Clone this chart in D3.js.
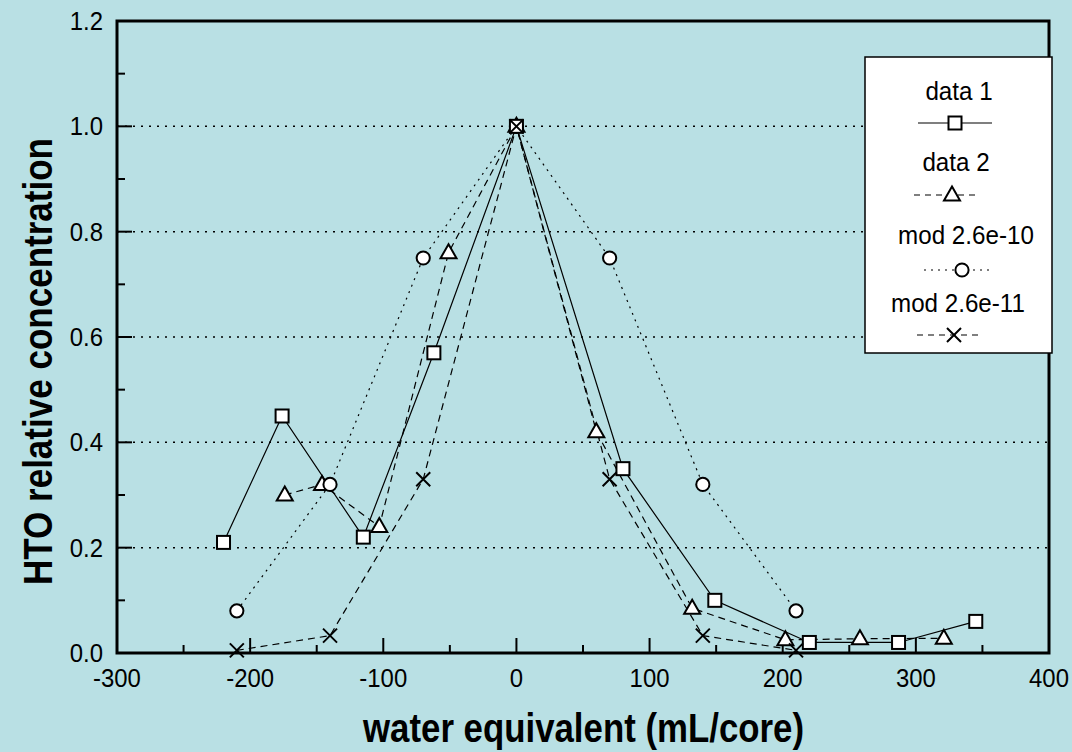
<!DOCTYPE html>
<html>
<head>
<meta charset="utf-8">
<script src="https://cdn.jsdelivr.net/npm/d3@7"></script>
<style>
  html, body { margin: 0; padding: 0; background: #b9e0e4; }
  svg { display: block; font-family: "Liberation Sans", Arial, sans-serif; }
</style>
</head>
<body>
<svg width="1072" height="752"></svg>
<script>
// values
const data1X = [-220, -176, -115, -62, 0, 80, 149, 220, 287, 345];
const data1Y = [0.21, 0.45, 0.22, 0.57, 1.0, 0.35, 0.10, 0.02, 0.02, 0.06];
const data2X = [-174, -146, -103, -51, 0, 60, 132, 202, 258, 321];
const data2Y = [0.30, 0.32, 0.24, 0.76, 1.0, 0.42, 0.085, 0.025, 0.027, 0.028];
const modX = [-210, -140, -70, 0, 70, 140, 210];
const mod10Y = [0.08, 0.32, 0.75, 1.0, 0.75, 0.32, 0.08];
const mod11Y = [0.005, 0.033, 0.33, 1.0, 0.33, 0.033, 0.005];
const xTicks = [-300, -200, -100, 0, 100, 200, 300, 400];
const yTicks = [0.0, 0.2, 0.4, 0.6, 0.8, 1.0, 1.2];
const gridY = [0.2, 0.4, 0.6, 0.8, 1.0];
const legendNames = ["data 1", "data 2", "mod 2.6e-10", "mod 2.6e-11"];

const svg = d3.select("svg");
const x = d3.scaleLinear().domain([-300, 400]).range([117, 1049]);
const y = d3.scaleLinear().domain([0, 1.2]).range([653, 21]);

// squeeze text horizontally, the original uses a narrow face
function condense(sel, k) {
  sel.each(function () {
    const w = this.getComputedTextLength();
    d3.select(this).attr("textLength", w * k).attr("lengthAdjust", "spacingAndGlyphs");
  });
}

const zip = (xs, ys) => xs.map((v, i) => [v, ys[i]]);
const series = [
  { name: "data 2", pts: zip(data2X, data2Y), dash: "7,5", mark: "tri" },
  { name: "mod 2.6e-10", pts: zip(modX, mod10Y), dash: "2,5", mark: "circ" },
  { name: "data 1", pts: zip(data1X, data1Y), dash: null, mark: "sq" },
  { name: "mod 2.6e-11", pts: zip(modX, mod11Y), dash: "7,5", mark: "x" }
];

// grid
svg.append("g")
  .selectAll("line")
  .data(gridY)
  .enter()
  .append("line")
  .attr("x1", x(-300)).attr("x2", x(400))
  .attr("y1", d => y(d)).attr("y2", d => y(d))
  .attr("stroke", "#000").attr("stroke-width", 1.5)
  .attr("stroke-dasharray", "2,6");

// ticks pointing inside
const minorX = d3.range(-250, 400, 100);
const minorY = d3.range(0.1, 1.2, 0.2);
const tk = svg.append("g").attr("stroke", "#000").attr("stroke-width", 2);
tk.selectAll(".mx").data(xTicks.slice(1, -1)).enter().append("line")
  .attr("x1", d => x(d)).attr("x2", d => x(d)).attr("y1", y(0)).attr("y2", y(0) - 15);
tk.selectAll(".nx").data(minorX).enter().append("line")
  .attr("x1", d => x(d)).attr("x2", d => x(d)).attr("y1", y(0)).attr("y2", y(0) - 8);
tk.selectAll(".my").data(yTicks.slice(1, -1)).enter().append("line")
  .attr("y1", d => y(d)).attr("y2", d => y(d)).attr("x1", x(-300)).attr("x2", x(-300) + 15);
tk.selectAll(".ny").data(minorY).enter().append("line")
  .attr("y1", d => y(d)).attr("y2", d => y(d)).attr("x1", x(-300)).attr("x2", x(-300) + 8);

// frame
svg.append("rect")
  .attr("x", x(-300)).attr("y", y(1.2))
  .attr("width", x(400) - x(-300)).attr("height", y(0) - y(1.2))
  .attr("fill", "none").attr("stroke", "#000").attr("stroke-width", 3);

// tick labels
svg.append("g").selectAll("text").data(xTicks).enter().append("text")
  .attr("x", d => x(d)).attr("y", 687)
  .attr("text-anchor", "middle").attr("font-size", 26)
  .text(d => d)
  .call(condense, 0.92);
svg.append("g").selectAll("text").data(yTicks).enter().append("text")
  .attr("x", 103).attr("y", d => y(d) + 9)
  .attr("text-anchor", "end").attr("font-size", 26)
  .text(d => d.toFixed(1))
  .call(condense, 0.92);

// axis titles
svg.append("text")
  .attr("x", 583.5).attr("y", 742)
  .attr("text-anchor", "middle").attr("font-size", 40).attr("font-weight", "bold")
  .attr("textLength", 441).attr("lengthAdjust", "spacingAndGlyphs")
  .text("water equivalent (mL/core)");
svg.append("text")
  .attr("transform", "translate(52,361.5) rotate(-90)")
  .attr("text-anchor", "middle").attr("font-size", 40).attr("font-weight", "bold")
  .attr("textLength", 447).attr("lengthAdjust", "spacingAndGlyphs")
  .text("HTO relative concentration");

// marker drawing
function drawMark(g, kind) {
  if (kind === "sq") {
    g.append("rect").attr("x", -6.5).attr("y", -6.5).attr("width", 13).attr("height", 13)
      .attr("fill", "#fff").attr("stroke", "#000").attr("stroke-width", 2);
  } else if (kind === "tri") {
    g.append("path").attr("d", "M0,-8.5L8,5.5L-8,5.5Z")
      .attr("fill", "#fff").attr("stroke", "#000").attr("stroke-width", 2);
  } else if (kind === "circ") {
    g.append("circle").attr("r", 6.6)
      .attr("fill", "#fff").attr("stroke", "#000").attr("stroke-width", 2);
  } else {
    g.append("path").attr("d", "M-7,-7L7,7M-7,7L7,-7")
      .attr("fill", "none").attr("stroke", "#000").attr("stroke-width", 2);
  }
}

const line = d3.line().x(d => x(d[0])).y(d => y(d[1]));
svg.append("g").selectAll("path").data(series).enter().append("path")
  .attr("d", d => line(d.pts))
  .attr("fill", "none").attr("stroke", "#000").attr("stroke-width", 1.2)
  .attr("stroke-dasharray", d => d.dash);

series.forEach(s => {
  svg.append("g").selectAll("g").data(s.pts).enter().append("g")
    .attr("transform", d => `translate(${x(d[0])},${y(d[1])})`)
    .each(function () { drawMark(d3.select(this), s.mark); });
});

// legend
const lg = svg.append("g");
lg.append("rect").attr("x", 865).attr("y", 57).attr("width", 187).attr("height", 296)
  .attr("fill", "#fff").attr("stroke", "#000").attr("stroke-width", 1.5);
const legendRows = [
  { name: legendNames[0], tx: 959, ty: 100, sy: 123, x1: 918, x2: 992, mx: 955, dash: null, mark: "sq" },
  { name: legendNames[1], tx: 956, ty: 171, sy: 195, x1: 914, x2: 975, mx: 952, dash: "6,5", mark: "tri" },
  { name: legendNames[2], tx: 966, ty: 244, sy: 270, x1: 924, x2: 990, mx: 962, dash: "2,5", mark: "circ" },
  { name: legendNames[3], tx: 958, ty: 312, sy: 335, x1: 917, x2: 978, mx: 954, dash: "6,5", mark: "x" }
];
legendRows.forEach(r => {
  lg.append("text").attr("x", r.tx).attr("y", r.ty)
    .attr("text-anchor", "middle").attr("font-size", 26)
    .text(r.name)
    .call(condense, 0.93);
  lg.append("line").attr("x1", r.x1).attr("x2", r.x2).attr("y1", r.sy).attr("y2", r.sy)
    .attr("stroke", "#000").attr("stroke-width", 1.2).attr("stroke-dasharray", r.dash);
  drawMark(lg.append("g").attr("transform", `translate(${r.mx},${r.sy})`), r.mark);
});
</script>
</body>
</html>
